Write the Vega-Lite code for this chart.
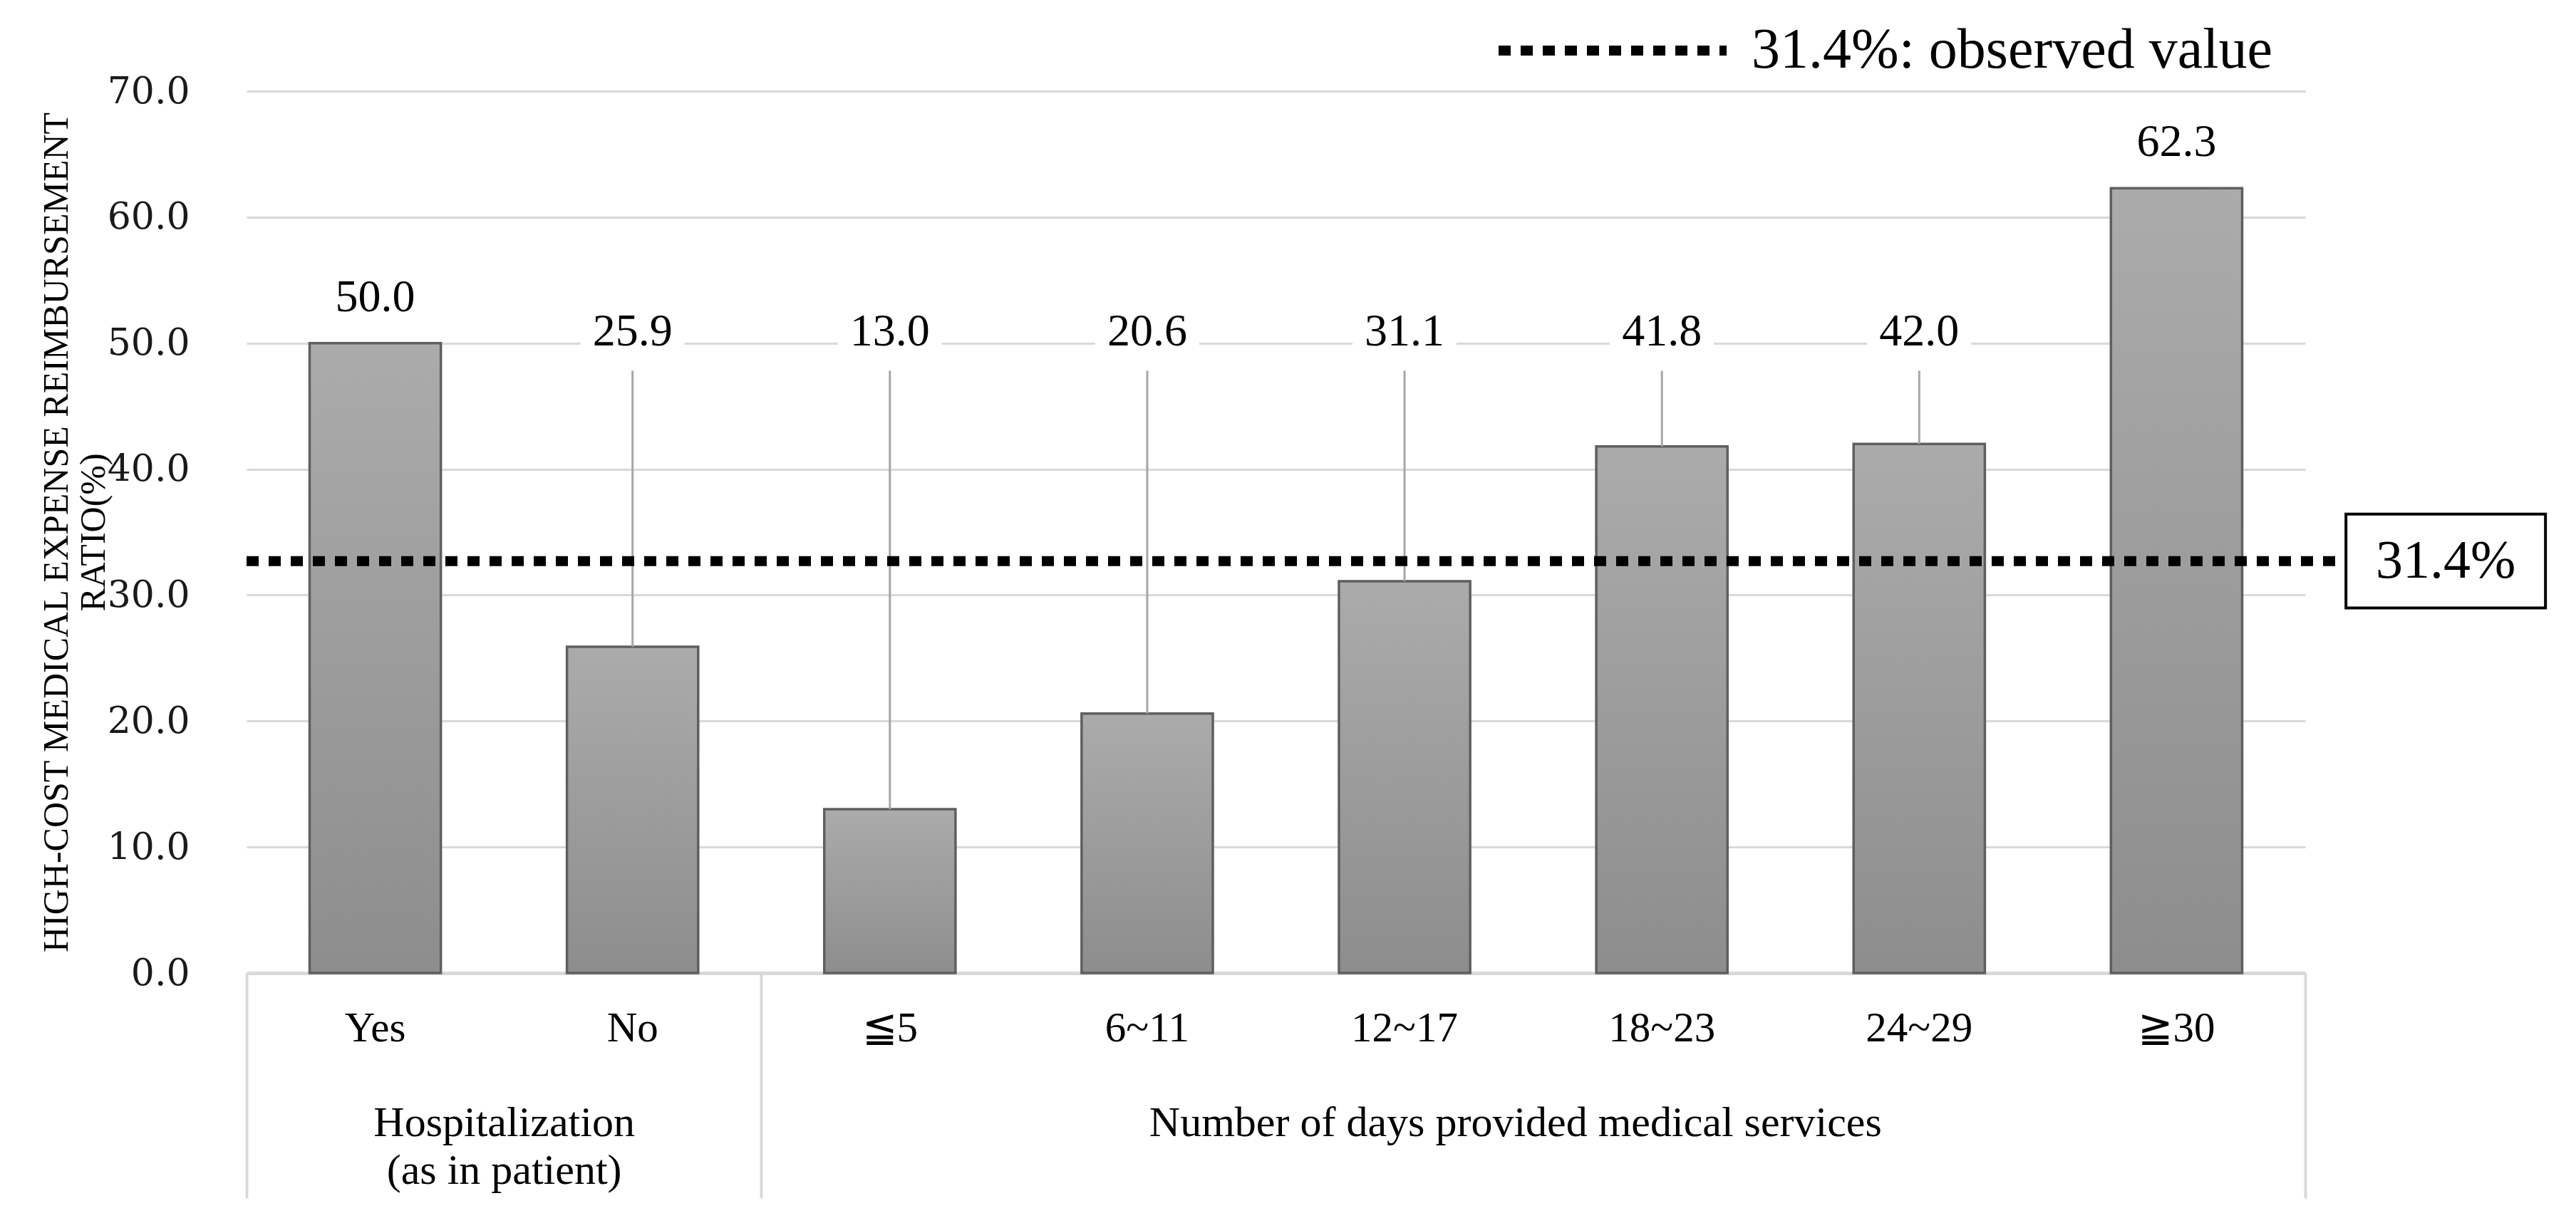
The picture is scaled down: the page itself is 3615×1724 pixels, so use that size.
{
  "$schema": "https://vega.github.io/schema/vega-lite/v6.json",
  "width": 2889,
  "height": 1238,
  "autosize": {"type": "none"},
  "padding": {"left": 346, "top": 128, "right": 380, "bottom": 358},
  "background": "white",
  "config": {
    "font": "Liberation Serif",
    "view": {"stroke": null},
    "axis": {"labelColor": "#000000", "titleColor": "#000000"}
  },
  "datasets": {
    "bars": [
      {"cat": "Yes", "group": "Hospitalization (as in patient)", "value": 50.0},
      {"cat": "No", "group": "Hospitalization (as in patient)", "value": 25.9},
      {"cat": "≦5", "group": "Number of days provided medical services", "value": 13.0},
      {"cat": "6~11", "group": "Number of days provided medical services", "value": 20.6},
      {"cat": "12~17", "group": "Number of days provided medical services", "value": 31.1},
      {"cat": "18~23", "group": "Number of days provided medical services", "value": 41.8},
      {"cat": "24~29", "group": "Number of days provided medical services", "value": 42.0},
      {"cat": "≧30", "group": "Number of days provided medical services", "value": 62.3}
    ],
    "observed": [
      {"series": "31.4%: observed value", "box": "31.4%", "y": 32.7}
    ]
  },
  "layer": [
    {
      "data": {"name": "bars"},
      "encoding": {
        "x": {
          "field": "cat", "type": "nominal", "sort": null,
          "scale": {"paddingInner": 0.49, "paddingOuter": 0.245},
          "axis": {
            "title": null, "labelAngle": 0, "ticks": false,
            "domainColor": "#d9d9d9", "domainWidth": 5,
            "labelFontSize": 59, "labelPadding": 48, "labelColor": "#000000"
          }
        }
      },
      "layer": [
        {
          "mark": {
            "type": "bar",
            "stroke": "#5f5f5f",
            "strokeWidth": 3.5,
            "color": {
              "gradient": "linear", "x1": 0, "y1": 0, "x2": 0, "y2": 1,
              "stops": [
                {"offset": 0, "color": "#ababab"},
                {"offset": 1, "color": "#8d8d8d"}
              ]
            }
          },
          "encoding": {
            "y": {
              "field": "value", "type": "quantitative",
              "scale": {"domain": [0, 70], "nice": false},
              "axis": {
                "values": [0, 10, 20, 30, 40, 50, 60, 70],
                "format": ".1f",
                "domain": false, "ticks": false,
                "gridColor": "#d9d9d9", "gridWidth": 3,
                "labelFont": "DejaVu Serif",
                "labelFontSize": 52, "labelPadding": 80, "labelColor": "#1a1a1a",
                "title": ["HIGH-COST MEDICAL EXPENSE REIMBURSEMENT", "RATIO(%)"],
                "titleFontSize": 50, "titleFontWeight": "normal",
                "titleX": -252, "titleY": 619, "titleAngle": -90,
                "titleAlign": "center", "titleBaseline": "alphabetic",
                "titleLineHeight": 52
              }
            }
          }
        },
        {
          "transform": [{"filter": "datum.value < 45"}],
          "mark": {"type": "rule", "color": "#a6a6a6", "strokeWidth": 3},
          "encoding": {
            "y": {"field": "value", "type": "quantitative"},
            "y2": {"datum": 47.8}
          }
        },
        {
          "transform": [{"filter": "datum.value < 45"}],
          "mark": {
            "type": "point", "filled": true, "fill": "white", "opacity": 1,
            "strokeWidth": 0,
            "shape": "M-1,-0.41L1,-0.41L1,0.41L-1,0.41Z",
            "size": 21316
          },
          "encoding": {
            "y": {"datum": 50.9, "type": "quantitative"}
          }
        },
        {
          "transform": [{"filter": "datum.value < 45"}],
          "mark": {"type": "text", "fontSize": 64, "baseline": "middle", "align": "center", "color": "#000000"},
          "encoding": {
            "y": {"datum": 50.9, "type": "quantitative"},
            "text": {"field": "value", "type": "quantitative", "format": ".1f"}
          }
        },
        {
          "transform": [{"filter": "datum.value >= 45"}],
          "mark": {"type": "text", "fontSize": 64, "baseline": "middle", "align": "center", "dy": -64, "color": "#000000"},
          "encoding": {
            "y": {"field": "value", "type": "quantitative"},
            "text": {"field": "value", "type": "quantitative", "format": ".1f"}
          }
        }
      ]
    },
    {
      "data": {"name": "observed"},
      "layer": [
        {
          "mark": {"type": "rule", "color": "#000000", "strokeWidth": 14, "strokeCap": "butt"},
          "encoding": {
            "x": {
              "datum": 0, "type": "quantitative",
              "scale": {"domain": [0, 8], "nice": false, "zero": false},
              "axis": {
                "orient": "bottom",
                "values": [0, 1, 2, 4.93, 8],
                "domain": false, "grid": false,
                "ticks": true, "tickSize": 316, "tickWidth": 4, "tickColor": "#d9d9d9",
                "tickOpacity": {"condition": {"test": "datum.value == 1 || datum.value == 4.93", "value": 0}, "value": 1},
                "labelExpr": "datum.value == 1 ? ['Hospitalization', '(as in patient)'] : datum.value == 4.93 ? 'Number of days provided medical services' : ''",
                "labelFontSize": 60, "labelLineHeight": 67, "labelPadding": -135,
                "labelColor": "#000000", "labelOverlap": false, "labelFlush": false,
                "labelBound": false, "labelLimit": 0,
                "title": null
              }
            },
            "x2": {"datum": 8.158},
            "y": {"field": "y", "type": "quantitative"},
            "strokeDash": {
              "field": "series", "type": "nominal",
              "scale": {"range": [[17, 14]]},
              "legend": {
                "orient": "none", "legendX": 1750, "legendY": -224,
                "title": null, "padding": 0,
                "symbolType": "stroke", "symbolSize": 102400,
                "symbolStrokeWidth": 14, "symbolStrokeColor": "#000000",
                "symbolDash": [17, 14],
                "labelFontSize": 80, "labelColor": "#000000", "labelOffset": 28,
                "labelLimit": 0
              }
            }
          }
        },
        {
          "mark": {
            "type": "point", "filled": true, "fill": "white", "opacity": 1,
            "stroke": "#000000", "strokeWidth": 4,
            "shape": "M-1,-0.471L1,-0.471L1,0.471L-1,0.471Z",
            "size": 78400
          },
          "encoding": {
            "x": {"datum": 8.546, "type": "quantitative", "scale": {"domain": [0, 8], "nice": false, "zero": false}},
            "y": {"field": "y", "type": "quantitative"}
          }
        },
        {
          "mark": {"type": "text", "fontSize": 76, "baseline": "middle", "align": "center", "color": "#000000"},
          "encoding": {
            "x": {"datum": 8.546, "type": "quantitative", "scale": {"domain": [0, 8], "nice": false, "zero": false}},
            "y": {"field": "y", "type": "quantitative"},
            "text": {"field": "box"}
          }
        }
      ]
    }
  ],
  "resolve": {"scale": {"x": "independent"}}
}
